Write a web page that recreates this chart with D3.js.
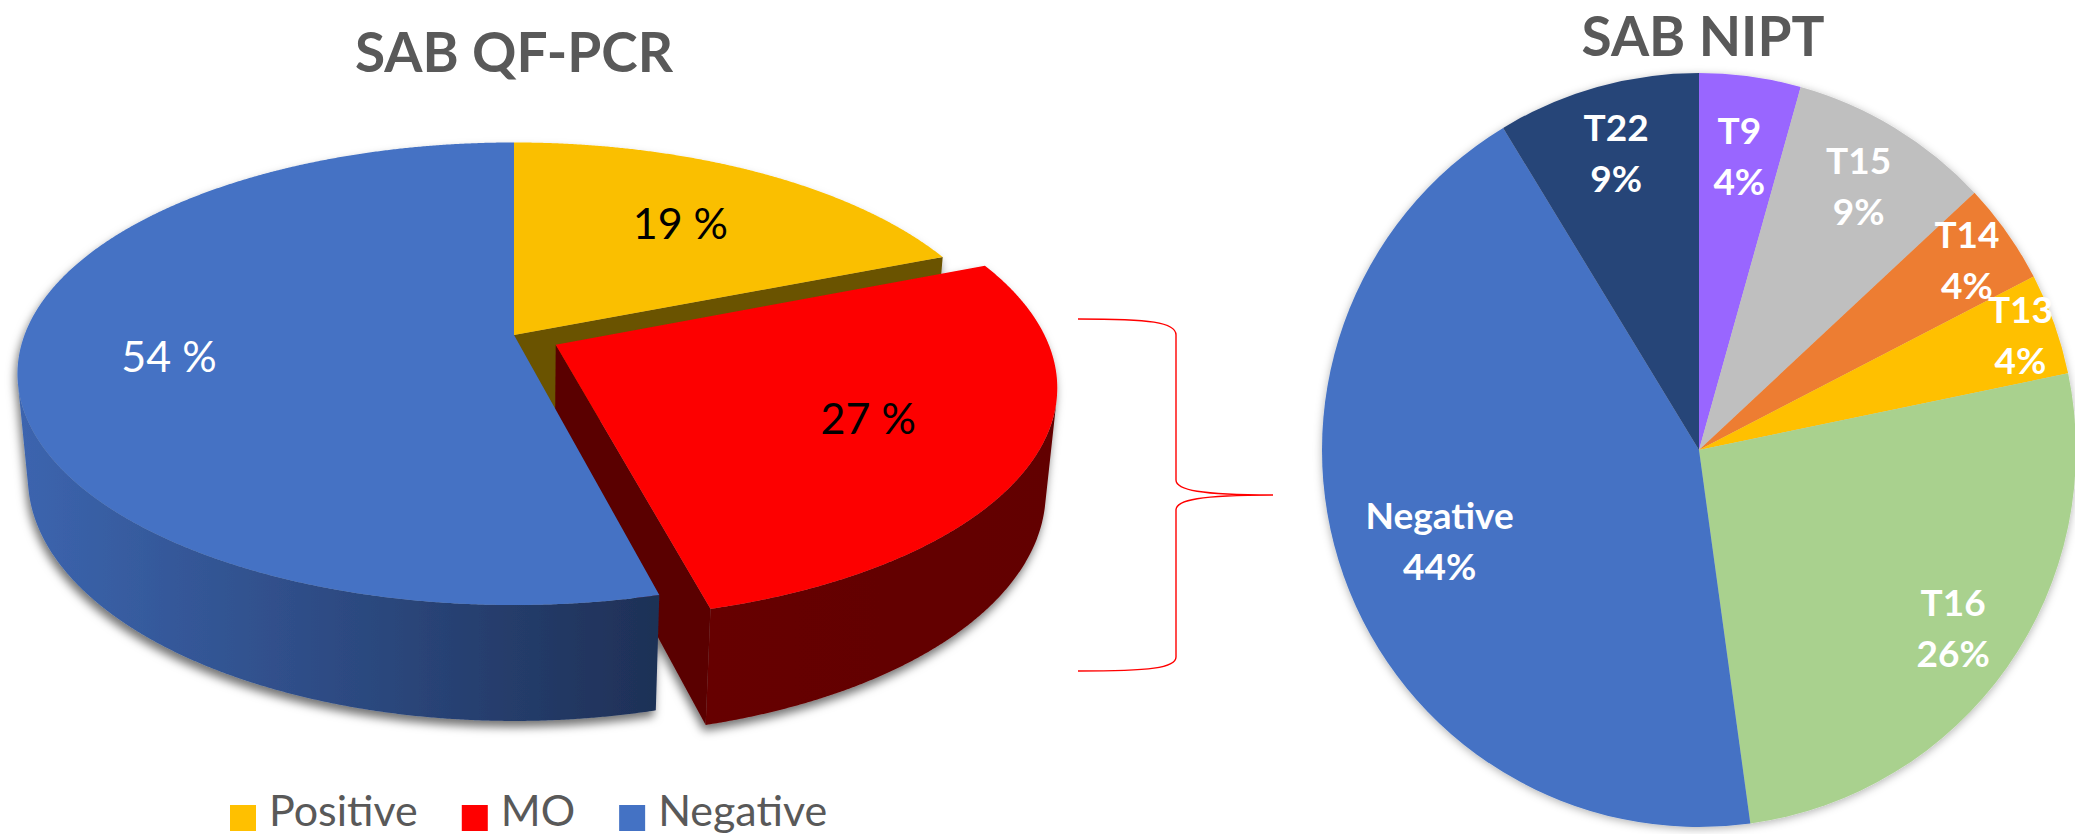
<!DOCTYPE html>
<html>
<head>
<meta charset="utf-8">
<script src="https://cdn.jsdelivr.net/npm/d3@7"></script>
<style>
  body { margin: 0; background: #fff; }
  svg { display: block; font-family: Lato, "Open Sans", sans-serif; }
</style>
</head>
<body>
<div id="chart"></div>
<script>
var width = 2075, height = 834;

// left chart: SAB QF-PCR (3D pie, MO slice pulled out)
var qfCategories = ["Positive", "MO", "Negative"];
var qfValues = [19, 27, 54];
var qfExploded = [false, true, false];
var qfColors = ["#FABF00", "#FD0000", "#4472C4"];
var qfLegendColors = ["#FFC000", "#FF0000", "#4472C4"];
var qfWallLeft = ["#7A5E00", "#660000", "#3C65AF"];
var qfWallRight = ["#6B5200", "#620000", "#1E3056"];
var qfCutColors = ["#6B5200", "#5A0000", "#2A4580"];
var qfLabelColors = ["#000", "#000", "#fff"];
var qfLabelDist = [0.66, 0.67, 0.7];

// right chart: SAB NIPT (counts, clockwise from 12 o'clock)
var niptCategories = ["T9", "T15", "T14", "T13", "T16", "Negative", "T22"];
var niptCounts = [1, 2, 1, 1, 6, 10, 2];
var niptPercent = ["4%", "9%", "4%", "4%", "26%", "44%", "9%"];
var niptColors = ["#9966FF", "#BFBFBF", "#ED7D31", "#FFC000", "#A9D18E", "#4472C4", "#264478"];
var niptLabelDist = [0.785, 0.815, 0.87, 0.905, 0.825, 0.73, 0.815];

var titleColor = "#595959";

var svg = d3.select("#chart").append("svg")
  .attr("width", width)
  .attr("height", height);

var defs = svg.append("defs");
defs.append("filter")
  .attr("id", "shadow3d")
  .attr("x", "-10%").attr("y", "-10%")
  .attr("width", "120%").attr("height", "130%")
  .append("feDropShadow")
  .attr("dx", -2).attr("dy", 6)
  .attr("stdDeviation", 5)
  .attr("flood-color", "#000")
  .attr("flood-opacity", 0.55);
defs.append("filter")
  .attr("id", "shadowFlat")
  .attr("x", "-10%").attr("y", "-10%")
  .attr("width", "120%").attr("height", "120%")
  .append("feDropShadow")
  .attr("dx", 0).attr("dy", 2)
  .attr("stdDeviation", 4)
  .attr("flood-color", "#000")
  .attr("flood-opacity", 0.3);

/** perspective projection of the 3D pie (units of the pie radius) */
var cx3 = 514, cy3 = 335, k3 = 489.5;
var tiltS = 0.4592, tiltC = 0.888, persp = 0.1887;
var depth3 = 0.2405, explode = 0.095;
var camZ = tiltC / persp;

function project(X, Y, Z) {
  var t = 1 - persp * (Z * tiltC + Y * tiltS);
  return [cx3 + k3 * X / t, cy3 + k3 * (Z * tiltS - Y * tiltC) / t];
}
function rimPoint(a, y, o) {
  return project(o[0] + Math.sin(a), y, o[1] - Math.cos(a));
}

var line = d3.line();
var pie3 = d3.pie().sort(null).value(function(d) { return d; });
var arcs3 = pie3(qfValues);

var g3 = svg.append("g").attr("filter", "url(#shadow3d)");

arcs3.forEach(function(d, i) {
  var mid = (d.startAngle + d.endAngle) / 2;
  var o = qfExploded[i] ? [explode * Math.sin(mid), -explode * Math.cos(mid)] : [0, 0];
  var angles = d3.range(d.startAngle, d.endAngle, 0.004).concat([d.endAngle]);
  var g = g3.append("g").attr("class", "slice3d");

  // outer wall, only the part facing the camera
  var vis = angles.filter(function(a) {
    return -1 - o[0] * Math.sin(a) - (camZ - o[1]) * Math.cos(a) > 0;
  });
  if (vis.length > 1) {
    var grad = defs.append("linearGradient")
      .attr("id", "wall" + i)
      .attr("x1", 0).attr("x2", 1).attr("y1", 0).attr("y2", 0);
    grad.append("stop").attr("offset", 0).attr("stop-color", qfWallLeft[i]);
    grad.append("stop").attr("offset", 1).attr("stop-color", qfWallRight[i]);
    var topEdge = vis.map(function(a) { return rimPoint(a, 0, o); });
    var botEdge = vis.map(function(a) { return rimPoint(a, -depth3, o); }).reverse();
    g.append("path")
      .attr("d", line(topEdge.concat(botEdge)) + "Z")
      .attr("fill", "url(#wall" + i + ")");
  }

  // cut faces at start / end of the slice
  [[d.startAngle, -1], [d.endAngle, 1]].forEach(function(f) {
    var a = f[0];
    var facing = f[1] * (Math.cos(a) * (-o[0]) + Math.sin(a) * (camZ - o[1]));
    if (facing <= 0) return;
    var pts = [project(o[0], 0, o[1]), rimPoint(a, 0, o),
               rimPoint(a, -depth3, o), project(o[0], -depth3, o[1])];
    g.append("path")
      .attr("d", line(pts) + "Z")
      .attr("fill", qfCutColors[i]);
  });

  // top face
  var topPts = [project(o[0], 0, o[1])].concat(angles.map(function(a) { return rimPoint(a, 0, o); }));
  g.append("path")
    .attr("d", line(topPts) + "Z")
    .attr("fill", qfColors[i]);

  d.offset = o;
  d.mid = mid;
});

// labels of the 3D pie
arcs3.forEach(function(d, i) {
  var f = qfLabelDist[i];
  var p = project(d.offset[0] + f * Math.sin(d.mid), 0, d.offset[1] - f * Math.cos(d.mid));
  svg.append("text")
    .attr("x", p[0])
    .attr("y", p[1])
    .attr("text-anchor", "middle")
    .attr("dominant-baseline", "central")
    .style("font-size", "43px")
    .attr("fill", qfLabelColors[i])
    .text(d.data + " %");
});

// title left
svg.append("text")
  .attr("x", cx3)
  .attr("y", 72)
  .attr("text-anchor", "middle")
  .style("font-size", "55px")
  .style("font-weight", 700)
  .attr("fill", titleColor)
  .text("SAB QF-PCR");

// legend
var legend = svg.append("g").attr("transform", "translate(230, 0)");
var lx = 0;
qfCategories.forEach(function(name, i) {
  legend.append("rect")
    .attr("x", lx)
    .attr("y", 805)
    .attr("width", 26)
    .attr("height", 26)
    .attr("fill", qfLegendColors[i]);
  var t = legend.append("text")
    .attr("x", lx + 39)
    .attr("y", 826)
    .style("font-size", "43px")
    .attr("fill", titleColor)
    .text(name);
  lx += 39 + t.node().getComputedTextLength() + 44;
});

// brace between the charts
svg.append("path")
  .attr("d", "M1078,319 C1150,319 1176,322 1176,335 L1176,480 C1176,490 1200,495 1273,495" +
             " C1200,495 1176,500 1176,510 L1176,657 C1176,668 1150,671 1078,671")
  .attr("fill", "none")
  .attr("stroke", "#FF0000")
  .attr("stroke-width", 1.4);

/** right chart: flat pie */
var cx2 = 1699, cy2 = 450, r2 = 377;
var pie2 = d3.pie().sort(null).value(function(d) { return d; });
var arc2 = d3.arc().innerRadius(0).outerRadius(r2);

var g2 = svg.append("g")
  .attr("transform", "translate(" + cx2 + "," + cy2 + ")");

g2.append("g")
  .attr("filter", "url(#shadowFlat)")
  .selectAll("path")
  .data(pie2(niptCounts))
  .enter().append("path")
  .attr("d", arc2)
  .attr("fill", function(d, i) { return niptColors[i]; });

var lab = g2.selectAll(".niptLabel")
  .data(pie2(niptCounts))
  .enter().append("text")
  .attr("class", "niptLabel")
  .attr("transform", function(d, i) {
    var r = r2 * niptLabelDist[i];
    return "translate(" + d3.arc().innerRadius(r).outerRadius(r).centroid(d) + ")";
  })
  .attr("text-anchor", "middle")
  .style("font-size", "37px")
  .style("font-weight", 700)
  .attr("fill", "#fff");
lab.append("tspan")
  .attr("x", 0)
  .attr("y", -13)
  .text(function(d, i) { return niptCategories[i]; });
lab.append("tspan")
  .attr("x", 0)
  .attr("y", 38)
  .text(function(d, i) { return niptPercent[i]; });

svg.append("text")
  .attr("x", cx2 + 4)
  .attr("y", 56)
  .attr("text-anchor", "middle")
  .style("font-size", "55px")
  .style("font-weight", 700)
  .attr("fill", titleColor)
  .text("SAB NIPT");
</script>
</body>
</html>
